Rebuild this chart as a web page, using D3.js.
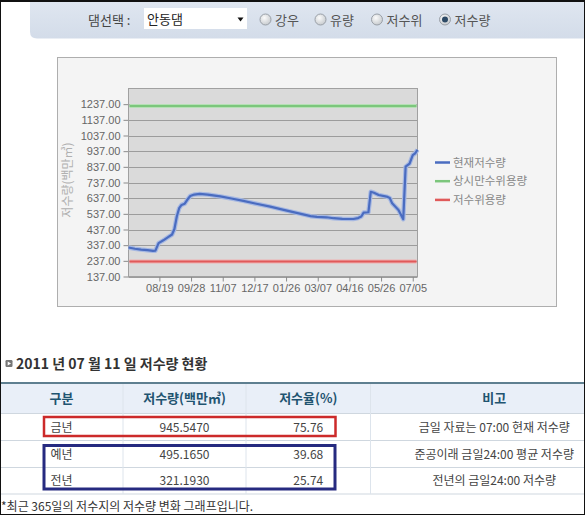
<!DOCTYPE html>
<html><head><meta charset="utf-8">
<script src="https://cdn.jsdelivr.net/npm/d3@7"></script>
<style>
html,body{margin:0;padding:0;background:#fff;}
svg{display:block;}
</style></head>
<body>
<svg id="c" width="585" height="515"></svg>
<script>
// ---------- data ----------
const dates = ["2010-07-11","2010-07-19","2010-07-27","2010-08-04","2010-08-11","2010-08-14","2010-08-18","2010-08-24","2010-08-30","2010-09-04","2010-09-07","2010-09-10","2010-09-13","2010-09-16","2010-09-20","2010-09-23","2010-09-27","2010-10-02","2010-10-09","2010-10-19","2010-11-04","2010-11-18","2010-12-03","2010-12-18","2011-01-06","2011-01-23","2011-02-11","2011-02-26","2011-03-06","2011-03-18","2011-03-27","2011-04-07","2011-04-21","2011-04-27","2011-05-01","2011-05-04","2011-05-10","2011-05-13","2011-05-17","2011-05-23","2011-06-02","2011-06-06","2011-06-09","2011-06-17","2011-06-23","2011-06-26","2011-07-01","2011-07-05","2011-07-08","2011-07-11"];
const storage = [322,314,309,305,301,302,350,368,388,405,440,520,573,594,602,625,651,660,664,660,648,635,620,603,583,562,540,522,518,515,509,505,504,510,520,545,547,678,672,657,647,638,604,562,503,838,858,912,923,946];
const normalHighStorage = 1225;   // 상시만수위용량
const lowStorage = 232;           // 저수위용량
const yTicks = [137,237,337,437,537,637,737,837,937,1037,1137,1237];
const xTicks = ["2010-08-19","2010-09-28","2010-11-07","2010-12-17","2011-01-26","2011-03-07","2011-04-16","2011-05-26","2011-07-05"];
const xDomain = ["2010-07-11","2011-07-11"];
const yDomain = [137,1337];
const legendLabels = ["현재저수량","상시만수위용량","저수위용량"];
const legendColors = ["#4a6cc0","#7cc67c","#e05a5a"];
const radioLabels = ["강우","유량","저수위","저수량"];
const damName = "안동댐";
const headers = ["구분","저수량(백만㎥)","저수율(%)","비고"];
const rowLabels = ["금년","예년","전년"];
const rowStorage = ["945.5470","495.1650","321.1930"];
const rowRate = ["75.76","39.68","25.74"];
const rowNotes = ["금일 자료는 07:00 현재 저수량","준공이래 금일24:00 평균 저수량","전년의 금일24:00 저수량"];

const FONT = "'Liberation Sans', Arial, 'Noto Sans CJK KR', sans-serif";
const KFONT = "'Noto Sans CJK KR', 'Liberation Sans', sans-serif";
const parse = d3.utcParse("%Y-%m-%d");
const svg = d3.select("#c");

// ---------- top panel ----------
const defs = svg.append("defs");
const pg = defs.append("linearGradient").attr("id","pg").attr("x1",0).attr("y1",0).attr("x2",0).attr("y2",1);
pg.append("stop").attr("offset","0").attr("stop-color","#dfe6f0");
pg.append("stop").attr("offset","1").attr("stop-color","#d3dce9");
svg.append("path").attr("d","M30,2 L600,2 L600,38.5 L37,38.5 Q30,38.5 30,31.5 Z").attr("fill","url(#pg)");
svg.append("text").attr("x",88).attr("y",25).attr("font-family",KFONT).attr("font-size",13).attr("fill","#444").text("댐선택 :");
svg.append("rect").attr("x",144).attr("y",8).attr("width",103).attr("height",21).attr("fill","#fff");
svg.append("text").attr("x",147).attr("y",24).attr("font-family",KFONT).attr("font-size",13).attr("fill","#222").text(damName);
svg.append("path").attr("d","M237.5,17.5 L243.5,17.5 L240.5,21.5 Z").attr("fill","#111");
const rg = defs.append("radialGradient").attr("id","rg").attr("cx","40%").attr("cy","35%").attr("r","70%");
rg.append("stop").attr("offset","0").attr("stop-color","#fbfbfb");
rg.append("stop").attr("offset","1").attr("stop-color","#c4c8cc");
const radioX = [265.5, 320.5, 377, 445];
radioLabels.forEach((l,i)=>{
  svg.append("circle").attr("cx",radioX[i]).attr("cy",19.5).attr("r",5.5).attr("fill","url(#rg)").attr("stroke","#9aa0a8");
  if(i===3){ svg.append("circle").attr("cx",radioX[i]).attr("cy",19.5).attr("r",3).attr("fill","#2d4a66"); }
  svg.append("text").attr("x",radioX[i]+9.5).attr("y",25).attr("font-family",KFONT).attr("font-size",13).attr("fill","#555").text(l);
});

// ---------- chart box ----------
svg.append("rect").attr("x",57.5).attr("y",57.5).attr("width",499).attr("height",249).attr("fill","#f4f4f4").attr("stroke","#aeaeae");
const P = {l:128.5, r:417.5, t:88.5, b:276.5};
const x = d3.scaleUtc().domain(xDomain.map(parse)).range([P.l,P.r]);
const y = d3.scaleLinear().domain(yDomain).range([P.b,P.t]);
svg.append("rect").attr("x",P.l).attr("y",P.t).attr("width",P.r-P.l).attr("height",P.b-P.t).attr("fill","#dadada");
// grid
svg.append("g").selectAll("line").data(yTicks).join("line")
  .attr("x1",P.l).attr("x2",P.r).attr("y1",d=>Math.round(y(d))+0.5).attr("y2",d=>Math.round(y(d))+0.5)
  .attr("stroke","#9c9c9c").attr("stroke-width",1);
// axes
const ya = svg.append("g").attr("transform",`translate(${P.l},0)`)
  .call(d3.axisLeft(y).tickValues(yTicks).tickFormat(d3.format(".2f")).tickSize(5).tickPadding(3));
const xa = svg.append("g").attr("transform",`translate(0,${P.b})`)
  .call(d3.axisBottom(x).tickValues(xTicks.map(parse)).tickFormat(d3.utcFormat("%m/%d")).tickSize(5).tickPadding(3));
[ya,xa].forEach(a=>{
  a.select(".domain").remove();
  a.selectAll(".tick line").attr("stroke","#8a8a8a");
  a.selectAll("text").attr("fill","#666").attr("font-family",FONT).attr("font-size",11);
});
svg.append("rect").attr("x",P.l).attr("y",P.t).attr("width",P.r-P.l).attr("height",P.b-P.t).attr("fill","none").attr("stroke","#a0a0a0");
// reference lines
[[normalHighStorage,legendColors[1],"#b5e0b5"],[lowStorage,legendColors[2],"#f0b0b0"]].forEach(([v,c,h])=>{
  svg.append("line").attr("x1",P.l+1).attr("x2",P.r-1).attr("y1",y(v)).attr("y2",y(v)).attr("stroke",h).attr("stroke-width",4);
  svg.append("line").attr("x1",P.l+1).attr("x2",P.r-1).attr("y1",y(v)).attr("y2",y(v)).attr("stroke",c).attr("stroke-width",2);
});
// series
const pts = dates.map((d,i)=>[parse(d),storage[i]]);
const line = d3.line().x(d=>x(d[0])).y(d=>y(d[1]));
svg.append("path").datum(pts).attr("d",line).attr("fill","none").attr("stroke","#a6b8e2").attr("stroke-width",4.5).attr("stroke-linejoin","round");
svg.append("path").datum(pts).attr("d",line).attr("fill","none").attr("stroke",legendColors[0]).attr("stroke-width",2.2).attr("stroke-linejoin","round");
// y title
svg.append("text").attr("transform","translate(72,180) rotate(-90)").attr("text-anchor","middle")
  .attr("font-family",KFONT).attr("font-size",12).attr("fill","#b0b0b0").text("저수량(백만㎥)");
// legend
legendLabels.forEach((l,i)=>{
  const ly = 162.5 + i*18.7;
  svg.append("line").attr("x1",435).attr("x2",450).attr("y1",ly).attr("y2",ly).attr("stroke",legendColors[i]).attr("stroke-width",2.5);
  svg.append("text").attr("x",453).attr("y",ly+4).attr("font-family",KFONT).attr("font-size",11.5).attr("fill","#888").text(l);
});

// ---------- table ----------
svg.append("rect").attr("x",5.5).attr("y",360).attr("width",7).attr("height",7).attr("rx",1.2).attr("fill","#777");
svg.append("path").attr("d","M7.7,361.5 L11,363.5 L7.7,365.5 Z").attr("fill","#fff");
svg.append("text").attr("x",16).attr("y",369).attr("font-family",KFONT).attr("font-size",14).attr("font-weight","bold").attr("fill","#333")
  .text("2011 년 07 월 11 일 저수량 현황");
const cols = [0,123,246,370.5,618];
const rowY = [384,413.5,440.5,467.5,494];
svg.append("rect").attr("x",0).attr("y",rowY[0]).attr("width",585).attr("height",rowY[1]-rowY[0]).attr("fill","#e9eff8");
svg.append("line").attr("x1",0).attr("x2",585).attr("y1",383).attr("y2",383).attr("stroke","#5e7f90").attr("stroke-width",2);
rowY.slice(1).forEach(yy=>svg.append("line").attr("x1",0).attr("x2",585).attr("y1",yy).attr("y2",yy).attr("stroke","#cfd7df"));
cols.slice(1,4).forEach(cx=>svg.append("line").attr("x1",cx).attr("x2",cx).attr("y1",rowY[0]).attr("y2",rowY[4]).attr("stroke","#dde4ec"));
const mid = i => (cols[i]+cols[i+1])/2;
headers.forEach((h,i)=>svg.append("text").attr("x",mid(i)).attr("y",403).attr("text-anchor","middle")
  .attr("font-family",KFONT).attr("font-size",13).attr("font-weight","bold").attr("fill","#1f5470").text(h));
const cells = rowLabels.map((l,i)=>[l,rowStorage[i],rowRate[i],rowNotes[i]]);
cells.forEach((r,ri)=>{
  const cy = (rowY[ri+1]+rowY[ri+2])/2 + 4.5;
  r.forEach((t,ci)=>svg.append("text").attr("x",mid(ci)).attr("y",cy).attr("text-anchor","middle")
    .attr("font-family",KFONT).attr("font-size",12).attr("fill","#444").text(t));
});
svg.append("rect").attr("x",44).attr("y",417).attr("width",291.5).attr("height",19).attr("fill","none").attr("stroke","#cc2a2a").attr("stroke-width",2.5);
svg.append("rect").attr("x",44).attr("y",445.5).attr("width",291).attr("height",43.5).attr("fill","none").attr("stroke","#262a80").attr("stroke-width",3);
svg.append("text").attr("x",1).attr("y",511).attr("font-family",KFONT).attr("font-size",12).attr("fill","#333")
  .text("*최근 365일의 저수지의 저수량 변화 그래프입니다.");
// page frame
svg.append("rect").attr("x",0.5).attr("y",0.5).attr("width",584).attr("height",514).attr("fill","none").attr("stroke","#111");
svg.append("line").attr("x1",0).attr("x2",585).attr("y1",1).attr("y2",1).attr("stroke","#111").attr("stroke-width",2);
</script>
</body></html>
